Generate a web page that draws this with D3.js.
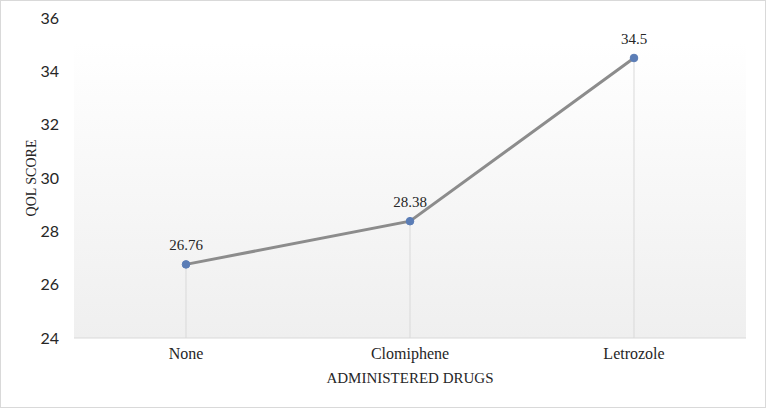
<!DOCTYPE html>
<html><head><meta charset="utf-8">
<script src="https://cdn.jsdelivr.net/npm/d3@7"></script>
<style>body{margin:0;background:#fff}svg{display:block}</style>
</head><body>
<script>
const categories = ["None", "Clomiphene", "Letrozole"];
const values = [26.76, 28.38, 34.5];
const labels = ["26.76", "28.38", "34.5"];
const yTicks = [24, 26, 28, 30, 32, 34, 36];

const W = 766, H = 408;
const m = {left: 74, right: 20, top: 18, bottom: 70};
const svg = d3.select("body").append("svg").attr("width", W).attr("height", H);

svg.append("rect").attr("x", 0.5).attr("y", 0.5).attr("width", W - 1).attr("height", H - 1)
  .attr("fill", "#fff").attr("stroke", "#d9d9d9");

const x = d3.scaleBand().domain(categories).range([m.left, W - m.right]);
const y = d3.scaleLinear().domain([24, 36]).range([H - m.bottom, m.top]);

const defs = svg.append("defs");
const grad = defs.append("linearGradient").attr("id", "bg").attr("x1", 0).attr("y1", 0).attr("x2", 0).attr("y2", 1);
grad.append("stop").attr("offset", "0%").attr("stop-color", "#ffffff");
grad.append("stop").attr("offset", "100%").attr("stop-color", "#efefef");

svg.append("rect").attr("x", m.left).attr("y", y(35.1)).attr("width", W - m.right - m.left)
  .attr("height", y(24) - y(35.1)).attr("fill", "url(#bg)");

// baseline
svg.append("line").attr("x1", m.left).attr("x2", W - m.right).attr("y1", y(24)).attr("y2", y(24))
  .attr("stroke", "#d9d9d9").attr("stroke-width", 1);

const serif = "'Liberation Serif', 'Times New Roman', serif";

// y axis
const yAxis = d3.axisLeft(y).tickValues(yTicks).tickSize(0).tickPadding(15);
const ga = svg.append("g").attr("transform", `translate(${m.left},0)`).call(yAxis);
ga.select(".domain").remove();
ga.selectAll("text").attr("font-family", "Lato, 'Open Sans', sans-serif").attr("font-size", 16).attr("fill", "#262626");

// x axis
const xAxis = d3.axisBottom(x).tickSize(0).tickPadding(10);
const gx = svg.append("g").attr("transform", `translate(0,${y(24)})`).call(xAxis);
gx.select(".domain").remove();
gx.selectAll("text").attr("font-family", serif).attr("font-size", 16).attr("fill", "#262626");

const cx = d => x(d) + x.bandwidth() / 2;

// drop lines
svg.selectAll(".drop").data(categories).join("line")
  .attr("x1", cx).attr("x2", cx)
  .attr("y1", (d, i) => y(values[i])).attr("y2", y(24))
  .attr("stroke", "#d9d9d9").attr("stroke-width", 1);

// line
const line = d3.line().x((d, i) => cx(categories[i])).y(d => y(d));
svg.append("path").datum(values).attr("d", line).attr("fill", "none")
  .attr("stroke", "#8c8c8c").attr("stroke-width", 3);

// markers
svg.selectAll(".pt").data(values).join("circle")
  .attr("cx", (d, i) => cx(categories[i])).attr("cy", d => y(d)).attr("r", 3.8)
  .attr("fill", "#5b7db6").attr("stroke", "#5b7db6");

// data labels
svg.selectAll(".lbl").data(values).join("text")
  .attr("x", (d, i) => cx(categories[i])).attr("y", d => y(d) - 14)
  .attr("text-anchor", "middle")
  .attr("font-family", serif).attr("font-size", 15).attr("fill", "#262626")
  .text((d, i) => labels[i]);

// axis titles
svg.append("text").attr("x", (m.left + W - m.right) / 2).attr("y", 383).attr("text-anchor", "middle")
  .attr("font-family", serif).attr("font-size", 15).attr("fill", "#262626")
  .text("ADMINISTERED DRUGS");
svg.append("text").attr("transform", `translate(36,${y(30)}) rotate(-90)`).attr("text-anchor", "middle")
  .attr("font-family", serif).attr("font-size", 14).attr("fill", "#262626")
  .text("QOL SCORE");
</script>
</body></html>
